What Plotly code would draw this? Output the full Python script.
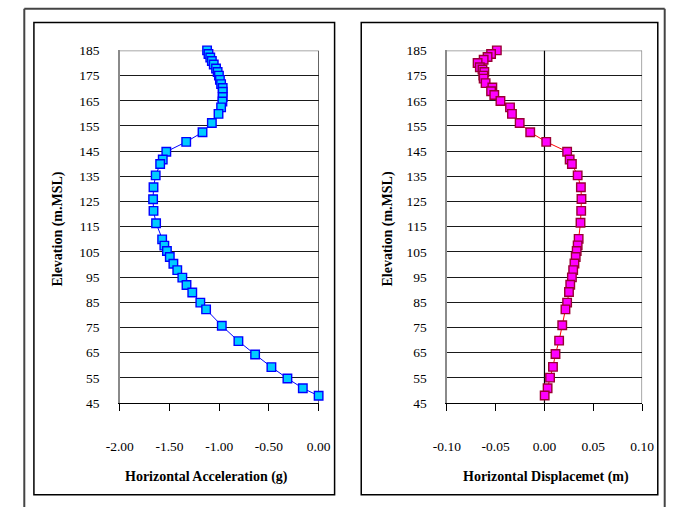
import plotly.graph_objects as go

# ---------------- data ----------------
elev_acc = [185, 183.6, 182.2, 180.8, 179.4, 177.8, 176.4, 175, 173.3, 171.6, 170.1, 168.6,
            166.5, 164.7, 162.4, 159.8, 156.2, 152.5, 148.7, 144.8, 141.7, 139.9, 135.4, 130.7,
            125.9, 121.3, 116.4, 110, 107.5, 105.4, 103, 100.3, 97.8, 94.8, 91.9, 88.9, 84.9,
            82.2, 75.7, 69.6, 64.3, 59.3, 54.8, 50.9, 47.9]
acc = [-1.122, -1.108, -1.090, -1.074, -1.055, -1.032, -1.016, -1.003, -0.993, -0.981, -0.965,
       -0.965, -0.965, -0.968, -0.981, -1.007, -1.074, -1.168, -1.332, -1.532, -1.568, -1.594,
       -1.639, -1.661, -1.665, -1.661, -1.635, -1.574, -1.552, -1.526, -1.497, -1.461, -1.422,
       -1.371, -1.329, -1.271, -1.190, -1.132, -0.974, -0.807, -0.639, -0.475, -0.314, -0.159,
       0.000]

elev_disp = [185, 183.6, 182.4, 181.3, 180, 178.3, 177.4, 176.4, 175, 173.8, 172, 170.3, 168.8,
             167.3, 164.9, 162.4, 159.8, 156.2, 152.5, 148.7, 144.8, 141.7, 139.9, 135.4, 130.7,
             126, 121.3, 116.6, 110.2, 107.6, 105.4, 103, 100.4, 97.8, 94.9, 92, 89.1, 84.9,
             82.2, 75.9, 69.8, 64.5, 59.4, 55.1, 50.9, 48]
disp = [-0.0488, -0.0547, -0.0583, -0.0623, -0.0685, -0.0662, -0.0635, -0.0616, -0.0626,
        -0.0623, -0.0603, -0.0534, -0.0547, -0.0514, -0.0451, -0.0353, -0.0333, -0.0254,
        -0.0146, 0.0018, 0.0232, 0.0258, 0.0281, 0.0340, 0.0373, 0.0379, 0.0376, 0.0369,
        0.0350, 0.0340, 0.0330, 0.0320, 0.0307, 0.0294, 0.0281, 0.0264, 0.0251, 0.0232,
        0.0215, 0.0182, 0.0150, 0.0113, 0.0087, 0.0057, 0.0032, 0.0002]

y_ticks = [45, 55, 65, 75, 85, 95, 105, 115, 125, 135, 145, 155, 165, 175, 185]
acc_ticks = [-2.0, -1.5, -1.0, -0.5, 0.0]
acc_ticktext = ["-2.00", "-1.50", "-1.00", "-0.50", "0.00"]
disp_ticks = [-0.10, -0.05, 0.0, 0.05, 0.10]
disp_ticktext = ["-0.10", "-0.05", "0.00", "0.05", "0.10"]

acc_title = "Horizontal Acceleration (g)"
disp_title = "Horizontal Displacemet (m)"
y_title = "Elevation (m.MSL)"

# ---------------- layout helpers ----------------
W, H = 682, 515
def px(x):
    return x / W
def py(y):
    return 1 - y / H

FONT = "'Liberation Serif', 'Times New Roman', Times, serif"

fig = go.Figure()
fig.add_trace(go.Scatter(
    x=acc, y=elev_acc, mode="lines+markers", xaxis="x", yaxis="y",
    line=dict(color="#0000FF", width=1),
    marker=dict(symbol="square", size=8.5, color="#00CCFF",
                line=dict(color="#0000FF", width=1.4)),
    showlegend=False, cliponaxis=False))
fig.add_trace(go.Scatter(
    x=disp, y=elev_disp, mode="lines+markers", xaxis="x2", yaxis="y2",
    line=dict(color="#FF0000", width=1),
    marker=dict(symbol="square", size=8.5, color="#FF00FF",
                line=dict(color="#990033", width=1.4)),
    showlegend=False, cliponaxis=False))

L = dict(x0=110, x1=316.7)
R = dict(x0=450, x1=653)
Y0, Y1 = 44.7, 408.0

common_x = dict(showgrid=False, zeroline=False, showline=True, linecolor="#000000",
                linewidth=1, ticks="outside", ticklen=7, tickcolor="#000000",
                tickfont=dict(family=FONT, size=13.5, color="#000000"),
                ticklabelstandoff=24, fixedrange=True)
common_y = dict(range=[45, 185], tickvals=y_ticks, ticktext=[str(v) for v in y_ticks],
                showgrid=True, gridcolor="#1a1a1a", gridwidth=1, zeroline=False,
                showline=True, linecolor="#8a8a8a", linewidth=1.5, ticks="",
                tickfont=dict(family=FONT, size=13.5, color="#000000"),
                ticklabelstandoff=16, fixedrange=True)

fig.update_layout(
    width=W, height=H, autosize=False,
    margin=dict(l=0, r=0, t=0, b=0),
    paper_bgcolor="white", plot_bgcolor="white",
    font=dict(family=FONT, color="#000000"),
    xaxis=dict(domain=[px(L["x0"]), px(L["x1"])], range=[-2, 0],
               tickvals=acc_ticks, ticktext=acc_ticktext, anchor="y", **common_x),
    yaxis=dict(domain=[py(Y1), py(Y0)], anchor="x", **common_y),
    xaxis2=dict(domain=[px(R["x0"]), px(R["x1"])], range=[-0.1, 0.1],
                tickvals=disp_ticks, ticktext=disp_ticktext, anchor="y2", **common_x),
    yaxis2=dict(domain=[py(Y1), py(Y0)], anchor="x2", **common_y),
)

shapes = []
# outer frame (left, top, right)
for (x0, y0, x1, y1) in [(10.7, 1.7, 10.7, 515), (10.7, 1.7, 676.5, 1.7), (676.5, 1.7, 676.5, 515)]:
    shapes.append(dict(type="line", xref="paper", yref="paper", x0=px(x0), y0=py(y0),
                       x1=px(x1), y1=py(y1), line=dict(color="#444444", width=2)))
# panel boxes
for (x0, x1) in [(20.7, 333.3), (361, 669.3)]:
    shapes.append(dict(type="rect", xref="paper", yref="paper", x0=px(x0), y0=py(502.3),
                       x1=px(x1), y1=py(16), line=dict(color="#000000", width=1.5),
                       layer="below"))
# plot-area borders (top + right gray) and x=0 black lines
shapes.append(dict(type="line", xref="x", yref="y", x0=-2, x1=0, y0=185, y1=185,
                   line=dict(color="#8a8a8a", width=1.5), layer="below"))
shapes.append(dict(type="line", xref="x", yref="y", x0=0, x1=0, y0=45, y1=185,
                   line=dict(color="#000000", width=1.2), layer="below"))
shapes.append(dict(type="line", xref="x2", yref="y2", x0=-0.1, x1=0.1, y0=185, y1=185,
                   line=dict(color="#8a8a8a", width=1.5), layer="below"))
shapes.append(dict(type="line", xref="x2", yref="y2", x0=0.1, x1=0.1, y0=45, y1=185,
                   line=dict(color="#8a8a8a", width=1.5), layer="below"))
shapes.append(dict(type="line", xref="x2", yref="y2", x0=0, x1=0, y0=45, y1=185,
                   line=dict(color="#000000", width=1.2), layer="below"))
fig.update_layout(shapes=shapes)

title_font = dict(family=FONT, size=14, color="#000000")
annots = [
    dict(text=f"<b>{acc_title}</b>", x=px(200.5), y=py(484), xref="paper", yref="paper",
         showarrow=False, xanchor="center", yanchor="middle", font=title_font),
    dict(text=f"<b>{disp_title}</b>", x=px(553), y=py(484), xref="paper", yref="paper",
         showarrow=False, xanchor="center", yanchor="middle", font=title_font),
    dict(text=f"<b>{y_title}</b>", x=px(46), y=py(229), xref="paper", yref="paper",
         showarrow=False, xanchor="center", yanchor="middle", textangle=-90, font=title_font),
    dict(text=f"<b>{y_title}</b>", x=px(389), y=py(229), xref="paper", yref="paper",
         showarrow=False, xanchor="center", yanchor="middle", textangle=-90, font=title_font),
]
fig.update_layout(annotations=annots)

fig.write_html(
    "out.html",
    config={"displayModeBar": False, "staticPlot": True},
    post_script="document.body.style.margin='0px';document.body.style.padding='0px';"
                "document.documentElement.style.overflow='hidden';",
)
